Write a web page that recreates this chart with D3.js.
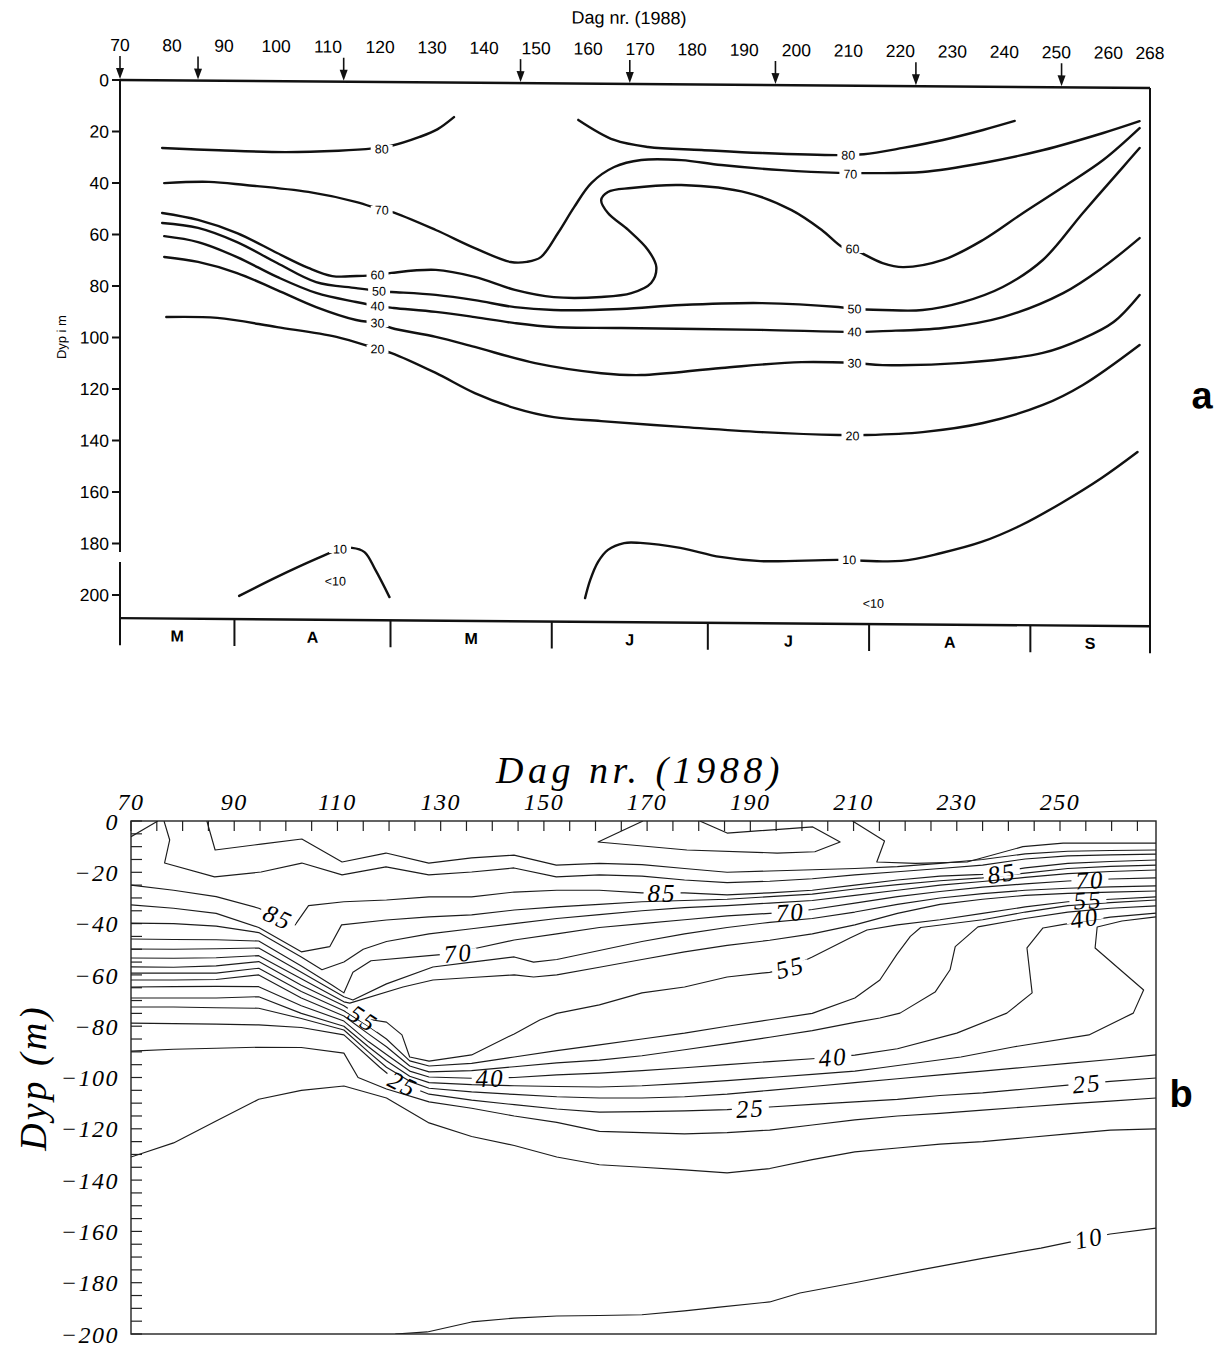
<!DOCTYPE html>
<html>
<head>
<meta charset="utf-8">
<script src="https://cdn.jsdelivr.net/npm/d3@7"></script>
<style>
  body { margin: 0; background: #fff; }
  svg { display: block; }
</style>
</head>
<body>
<svg id="chart" width="1229" height="1347"></svg>
<script>
// ---------------- panel a : hand-drawn isopleths ----------------
const aTickDays = [70, 80, 90, 100, 110, 120, 130, 140, 150, 160, 170, 180, 190, 200, 210, 220, 230, 240, 250, 260, 268];
const aSampleDays = [70, 85, 113, 147, 168, 196, 223, 251];
const aDepthTicks = [0, 20, 40, 60, 80, 100, 120, 140, 160, 180, 200];
const monthBounds = [70, 92, 122, 153, 183, 214, 245, 268];
const monthNames = ["M", "A", "M", "J", "J", "A", "S"];

const a80left = [[78.1,26.3],[89,27],[101.8,27.5],[112,26.8],[118.6,25.8],[122,24.8],[127.6,21.2],[131,18.2],[134.2,13.4]];
const a80right = [[158.1,14.1],[165,21.8],[171.5,24.4],[181.8,25.4],[193.3,26.4],[208.1,27],[213,26.6],[220.5,24],[228.2,20.8],[235.9,16.8],[242,13.2]];
const a70 = [[78.5,39.9],[87.1,39.3],[94.1,40.4],[106.2,42.9],[115.5,46.7],[120.3,49.7],[122.2,50.4],[130.7,57.3],[138.2,64.2],[145.1,69.5],[148.2,69.4],[150.9,67.5],[154.2,58.1],[157.3,48],[160.6,38.6],[165,32.3],[170.2,29.5],[177.9,29.4],[185.6,31.2],[197.2,33],[208.1,33.9],[213.5,33.9],[224.3,33.3],[235.9,29.6],[247.5,24.4],[259,17.6],[266,12.9]];
const a60 = [[78.1,51.5],[85,54.1],[92.5,59.1],[100.2,66.7],[106.2,72.4],[110.8,75.5],[115.5,75.4],[119.5,74.9],[122.2,74.1],[130.7,72.8],[138.2,75.4],[145.9,80.3],[153.4,83],[162.5,82.8],[168.3,81.2],[172.1,77.2],[173.1,71],[171.5,64.4],[167.7,56.7],[163.8,50.2],[162.5,45.2],[163.8,42],[168.3,40.4],[177.9,39.1],[190.8,42],[199.1,48.5],[204.9,56.1],[208.9,62.7],[210.8,63.4],[216.6,68.8],[220.5,70.3],[228.2,67.4],[235.9,59.5],[243.6,48.9],[251.3,38.7],[259,28.1],[266,15.6]];
const a50 = [[78.1,55.4],[85,57.2],[92.5,62.6],[100.2,70.6],[107.7,77.9],[115.4,80.1],[119.8,81.2],[122.2,81.5],[130.7,82.5],[138.2,84.4],[145.9,87],[153.4,88],[166.3,87.4],[177.9,85.7],[193.3,84.7],[208.1,86],[211.2,86.7],[216.6,87],[224.3,86.9],[232,83.7],[239.7,77.7],[247.4,67.1],[255.1,48.7],[262.8,30.8],[266,23.3]];
const a40 = [[78.5,60.5],[85,62.7],[92.5,68.4],[100.2,76],[107.7,82.1],[115.4,85.5],[119.5,87],[122.6,87.7],[130.7,89.1],[138.2,91],[145.9,93.2],[153.4,94.6],[166.3,94.8],[193.3,95.1],[211.2,95.6],[216.6,95.2],[228.2,93.8],[239.7,89.4],[251.3,79.9],[259,69.7],[266,58.3]];
const a30 = [[78.5,68.6],[85,70.4],[92.5,74.6],[100.2,81.1],[107.7,87.6],[115.4,92.5],[119.5,93.6],[122.2,95.5],[130.7,98.8],[138.2,102.6],[149.8,108.7],[162.5,112.4],[170.2,113],[185.6,110],[201,107.5],[211.2,107.7],[216.6,108.4],[232,107.3],[247.4,103.2],[255.1,97.5],[261,91],[266,80.4]];
const a20 = [[78.9,91.9],[88.7,92.1],[100.2,95.5],[111.6,99.1],[119.5,103.7],[122.2,105.2],[130.7,112.8],[138.2,120.5],[145.9,126.2],[153.4,129.6],[162.5,131],[177.9,133],[193.3,134.8],[208.1,135.7],[213.5,135.6],[224.3,134.3],[235.9,130.6],[247.4,123.4],[255.1,115.5],[266,99.8]];
const a10left = [[92.9,200],[100.2,192.5],[107.7,185.4],[112.3,181.5],[114.6,181],[117,182.6],[119.1,189.5],[121.8,200]];
const a10right = [[159.4,199.8],[160.4,192.7],[161.9,185.7],[163.8,181],[166.9,178.3],[170,178.2],[177.7,180],[185.4,183.4],[193.1,184.9],[207.9,184.2],[220.2,184.4],[227.9,181.2],[235.6,176.8],[243.3,170.1],[251,161.4],[258.7,151.6],[265.6,141.4]];
// label value, day, depth
const aLabels = [[80,120.3,26],[80,210,27],[70,120.3,49.7],[70,210.4,34.3],[60,119.5,74.9],[60,210.8,63.4],[50,119.8,81.2],[50,211.2,86.7],[40,119.5,87],[40,211.2,95.6],[30,119.5,93.6],[30,211.2,107.7],[20,119.5,103.7],[20,210.8,136],[10,112.3,181.5],[10,210.2,184.1]];
const aNotes = [["<10",111.4,194],["<10",214.8,201]];

// ---------------- panel b : computer contoured ----------------
const bTickLabels = [70, 90, 110, 130, 150, 170, 190, 210, 230, 250];
const bDepthLabels = [0, 20, 40, 60, 80, 100, 120, 140, 160, 180, 200];

const b100a = [[169.2,0],[160.5,8.2],[177.7,11.3],[195.2,12.5],[202.5,12],[207.4,8.2],[202.1,2.3],[185.5,4.7],[180.2,0]];
const b100b = [[209.8,0],[216,7.8],[214.5,16],[222,16.5],[232,16],[242.8,10],[250.6,8.6],[268.6,8.6]];
const b95 = [[84.7,0],[86.3,11.3],[95.2,9],[103.1,7],[110.9,16],[119.4,12.5],[127.7,16.4],[136,14.4],[144.2,13.3],[152.4,17.2],[160.75,16.5],[169,17],[177.25,18.5],[185.5,20],[193.75,19.5],[202,19],[210.25,18.5],[218.5,17.8],[226.75,16.5],[235,15],[243.25,12.8],[251.5,11.8],[259.75,11.5],[268.6,11.3]];
const b90corner = [[70,6.1],[75.2,0]];
const b90 = [[76.4,0],[77.5,7.4],[76.5,16.4],[86.2,21.8],[95.2,19.9],[103.1,16.4],[110.9,21],[119.4,17.9],[127.7,21],[136,19.9],[144.2,18.3],[152.4,21.8],[160.75,21],[169,21.5],[177.25,23],[185.5,24],[193.75,23.5],[202,22.5],[210.25,21],[218.5,19.8],[226.75,18.5],[235,17.2],[243.25,14.8],[251.5,13.6],[259.75,13.2],[268.6,12.9]];
const b85 = [[70,25],[78.25,27],[86.5,29.5],[94.75,34],[98.5,37.4],[101.8,40.5],[104.4,33],[111.25,31.5],[119.5,30.8],[127.75,29.6],[136,29.6],[144.25,27.7],[152.5,27],[160.75,27],[169,28],[177.25,28],[185.5,28.8],[193.75,28],[202,27],[210.25,25],[218.5,23],[226.75,21.5],[235,20.8],[243.25,18.3],[251.5,16.5],[259.75,15.8],[268.6,15.2]];
const b80 = [[70,32.7],[78.25,34],[86.5,36],[94.75,41.5],[103,51],[108.5,49],[110.8,40.5],[119.5,38.6],[127.75,37.4],[136,36.6],[144.25,34.7],[152.5,33.5],[160.75,32.5],[169,31.5],[177.25,31],[185.5,30.5],[193.75,29.5],[202,28.5],[210.25,26.5],[218.5,24.8],[226.75,23.3],[235,22.2],[243.25,20.3],[251.5,18.5],[259.75,17.7],[268.6,17.2]];
const b75 = [[70,39.8],[78.25,40],[86.5,41],[94.75,43.5],[103,53],[107,58],[111.25,55],[115,50],[119.5,47],[127.75,44],[136,42],[144.25,40],[152.5,38],[160.75,36.5],[169,35],[177.25,33.8],[185.5,33],[193.75,32],[202,31],[210.25,29],[218.5,27],[226.75,25],[235,23.6],[243.25,22],[251.5,20.5],[259.75,19.7],[268.6,19.1]];
const b70 = [[70,46],[78.25,46.2],[86.5,46.3],[94.75,46.8],[103,56.5],[109,64],[111.25,67],[113,59],[116.5,54.5],[127.75,52.5],[133.4,51.5],[136,50],[144.25,46.4],[152.5,44],[160.75,41.5],[169,40],[177.25,38.5],[185.5,37],[193.75,36],[197.7,35.5],[202,34.5],[210.25,32],[218.5,29.5],[226.75,27.5],[235,25.8],[243.25,24.5],[251.5,23.4],[255.8,23],[259.75,22.6],[268.6,22.2]];
const b65 = [[70,49.9],[78.25,50],[86.5,49.8],[94.75,49.5],[103,59],[111.25,68.5],[113,69.8],[119.5,63.5],[128.5,56.9],[136,55],[144.25,53],[148,55],[152.5,54],[160.75,50.5],[169,47],[177.25,44],[185.5,41.5],[193.75,39.5],[202,38],[210.25,35.5],[218.5,32.5],[226.75,30],[235,28.3],[243.25,27],[251.5,26.2],[259.75,25.7],[268.6,25.3]];
const b60 = [[70,53.4],[78.25,53.5],[86.5,53.3],[94.75,52.5],[103,61.5],[111.25,70.5],[112.4,71],[122.7,64.7],[128.5,62],[136,61],[144.25,60],[148,60.8],[152.5,60],[160.75,57],[169,54],[177.25,51],[185.5,48.5],[193.75,46.5],[202,44],[210.25,40.5],[218.5,36],[226.75,32.5],[235,30.5],[243.25,29],[251.5,28.2],[259.75,27.7],[268.6,27.3]];
const b55 = [[70,56.9],[78.25,57],[86.5,56.5],[94.75,54.8],[103,64],[111.25,72],[115,77],[119.5,78.4],[122.5,83.4],[124,92],[127.75,93.6],[136,91.2],[144.25,83],[149.2,77.6],[152.5,75],[160.75,71.7],[169,67],[177.25,64.7],[185.5,60.8],[193.75,59],[197.7,57],[202,53],[209.3,45.6],[212.6,42.5],[218.5,40.5],[226.75,38.5],[235,36],[243.25,33.5],[251.5,31.5],[259.75,30.5],[268.6,29.6]];
const b50 = [[70,59.3],[78.25,59.3],[86.5,59.3],[94.75,57.4],[103,66.5],[111.25,74],[116,80],[119.5,85],[124,93.5],[127.75,95.5],[136,94.5],[144.25,92],[152.5,89.5],[160.75,87.3],[169,85],[177.25,82.7],[185.5,80],[193.75,77.5],[202,75],[210.25,69],[215.1,62],[218.4,52],[221,45],[223,41.5],[235,38.5],[243.25,35.5],[251.5,33],[259.75,31.8],[268.6,30.8]];
const b45 = [[70,62],[78.25,62],[86.5,61.8],[94.75,60],[103,69],[111.25,76],[116,83],[119.5,88],[124,95.5],[127.75,97.8],[136,97.3],[144.25,95.8],[152.5,94.3],[160.75,93.2],[169,91.5],[177.25,89.2],[185.5,86.8],[193.75,84.3],[202,81.7],[210.25,78.5],[215.1,76.8],[219,74.9],[225.8,66.7],[228.7,58],[229.7,49],[234.1,41.3],[243.25,38],[251.5,35.5],[259.75,34],[268.6,33.1]];
const b40 = [[70,64.7],[78.25,64.6],[86.5,64.5],[94.75,64.6],[103,72],[111.25,78],[116,86],[119.5,91],[124,97.5],[127.75,99.8],[136,100.3],[144.25,100],[152.5,99],[160.75,98.3],[169,97.3],[177.25,96.2],[185.5,95],[193.75,93.8],[202,92.7],[210.25,91.3],[218.5,88.8],[230,82.7],[239.7,74.9],[244.6,67],[243.6,49.5],[246.7,41.7],[251,40.2],[259.75,37.5],[268.6,35.9]];
const b35 = [[70,69],[78.25,69],[86.5,69],[94.75,68.5],[103,75],[111.25,80],[116,88],[119.5,93.5],[124,99.5],[127.75,102],[136,102.8],[144.25,103.2],[152.5,103.5],[160.75,103.7],[169,103.2],[177.25,102.3],[185.5,101.2],[193.75,100],[202,98.8],[210.25,97.5],[215,96.3],[230.8,92],[240.9,88.1],[255.6,83.4],[264.2,74.9],[266.2,65.9],[256.8,49.5],[257.2,41.3],[262,39],[268.6,37.4]];
const b30 = [[70,72.5],[78.25,72.5],[86.5,72.8],[94.75,73],[103,77],[111.25,81.5],[116,90],[119.5,96],[124,101.5],[127.75,104.2],[136,105.6],[144.25,106.6],[152.5,107.5],[160.75,108],[169,108],[177.25,107.5],[185.5,106.5],[193.75,105],[202,103.5],[210.25,102],[218.5,100.5],[226.75,99],[235,97.5],[243.25,96],[251.5,94.5],[259.75,93],[268.6,91.2]];
const b25 = [[70,78.8],[78.25,79],[86.5,79.2],[94.75,79.5],[103,80.5],[111.25,83.4],[118.2,96],[121.2,101],[122.7,102.5],[127.75,106.5],[136,108.8],[144.25,110.6],[152.5,112.3],[160.75,113.5],[169,113.3],[177.25,113],[185.5,112.5],[193.75,111.5],[202,110.5],[210.25,109.5],[218.5,108.5],[226.75,107],[235,106],[243.25,104.5],[251.5,103],[259.75,101.5],[268.6,100.2]];
const b20 = [[70,89.7],[78.25,89],[86.5,88.6],[94.75,88.2],[103,88.3],[111.25,90.5],[114,100],[119.5,104.5],[127.75,109.5],[136,112],[144.25,115],[152.5,117.5],[160.75,121],[169,121.5],[177.25,122],[185.5,121.5],[193.75,120.5],[202,118.5],[210.25,116.5],[218.5,115],[226.75,114],[235,112.7],[243.25,111.5],[251.5,110.3],[259.75,109.2],[268.6,108]];
const b15 = [[70,131],[78.25,125.5],[86.5,117],[94.75,108.5],[103,105],[111.25,103.3],[119.5,108],[127.75,117.7],[136,123],[144.25,126.5],[152.5,131],[160.75,134],[169,135],[177.25,136],[185.5,137.2],[193.75,135.5],[202,132],[210.25,129],[218.5,127.5],[226.75,126],[235,125],[243.25,123.5],[251.5,122],[259.75,120.5],[268.6,120]];
const b10 = [[121.2,200],[127.4,199.2],[136,195.3],[144.25,193.8],[152.5,193],[160.75,192.8],[169,192.5],[177.25,191],[184,189.5],[193.75,187.5],[199.6,184],[210.25,180],[223,175],[235,170.5],[246.3,166.5],[255.6,162.6],[259.75,161],[268.6,158.7]];
const bLabels = [[85,98.5,37.4],[85,172.9,28],[85,238.7,20.3],[70,133.4,51.5],[70,197.7,35.5],[70,255.8,23],[55,115,77],[55,197.7,57],[55,255.4,30.8],[40,139.6,100.2],[40,206,92],[40,254.8,37.8],[25,122.7,102.5],[25,190,112],[25,255.2,102.3],[10,255.6,162.6]];

// ---------------------------------------------------------------
const svg = d3.select("#chart");
const sans = "'Liberation Sans', Arial, sans-serif";
const serif = "'Liberation Serif', 'DejaVu Serif', serif";

// gap + text label, rotated along the line
function lineLabel(g, x, y, angle, txt, font, size, gapH, spacing) {
  const lg = g.append("g").attr("transform", `translate(${x},${y}) rotate(${angle})`);
  const gap = lg.append("rect").attr("fill", "#fff");
  const t = lg.append("text")
    .attr("text-anchor", "middle").attr("dy", "0.35em")
    .style("font-family", font).style("font-size", size + "px")
    .style("letter-spacing", spacing + "px")
    .text(txt);
  if (font === serif) t.style("font-style", "italic");
  const bb = t.node().getBBox();
  gap.attr("x", bb.x - 4).attr("width", bb.width + 8).attr("y", -gapH / 2).attr("height", gapH);
}

// ================= panel a =================
const xa = d3.scaleLinear().domain([70, 268]).range([120, 1150]);
const ya = d3.scaleLinear().domain([0, 200]).range([80, 595]);
// the scanned figure is slightly sheared
const ga = svg.append("g").attr("transform", "matrix(1,0.0078,0,1,0,-0.936)");

ga.append("text")
  .attr("x", 629).attr("y", 20)
  .attr("text-anchor", "middle")
  .style("font-family", sans).style("font-size", "18px")
  .text("Dag nr. (1988)");

ga.selectAll(".atick").data(aTickDays).enter().append("text")
  .attr("x", d => xa(d)).attr("y", ya(0) - 29)
  .attr("text-anchor", "middle")
  .style("font-family", sans).style("font-size", "17.5px")
  .text(d => d);

// sampling arrows
aSampleDays.forEach(d => {
  const x = xa(d);
  ga.append("line").attr("x1", x).attr("x2", x).attr("y1", ya(0) - 24).attr("y2", ya(0) - 8)
    .attr("stroke", "#111").attr("stroke-width", 1.6);
  ga.append("path")
    .attr("d", `M${x - 4},${ya(0) - 12} L${x + 4},${ya(0) - 12} L${x},${ya(0) - 1} Z`)
    .attr("fill", "#111");
});

// frame
const aBottom = 209, aMonthDepth = 219.5;
ga.append("line").attr("x1", xa(70)).attr("x2", xa(268)).attr("y1", ya(0)).attr("y2", ya(0))
  .attr("stroke", "#111").attr("stroke-width", 2.4);
ga.append("line").attr("x1", xa(70)).attr("x2", xa(268)).attr("y1", ya(aBottom)).attr("y2", ya(aBottom))
  .attr("stroke", "#111").attr("stroke-width", 2.4);
ga.append("line").attr("x1", xa(268)).attr("x2", xa(268)).attr("y1", ya(0)).attr("y2", ya(aMonthDepth))
  .attr("stroke", "#111").attr("stroke-width", 2);
ga.append("line").attr("x1", xa(70)).attr("x2", xa(70)).attr("y1", ya(0)).attr("y2", ya(183.3))
  .attr("stroke", "#111").attr("stroke-width", 2);
ga.append("line").attr("x1", xa(70)).attr("x2", xa(70)).attr("y1", ya(187.2)).attr("y2", ya(aMonthDepth))
  .attr("stroke", "#111").attr("stroke-width", 2);

// depth axis
ga.selectAll(".aytk").data(aDepthTicks).enter().append("line")
  .attr("x1", xa(70) - 8).attr("x2", xa(70)).attr("y1", d => ya(d)).attr("y2", d => ya(d))
  .attr("stroke", "#111").attr("stroke-width", 2);
ga.selectAll(".aylb").data(aDepthTicks).enter().append("text")
  .attr("x", xa(70) - 11).attr("y", d => ya(d)).attr("dy", "0.36em")
  .attr("text-anchor", "end")
  .style("font-family", sans).style("font-size", "17.5px")
  .text(d => d);
ga.append("text")
  .attr("transform", `translate(66,${ya(100)}) rotate(-90)`)
  .attr("text-anchor", "middle")
  .style("font-family", sans).style("font-size", "13px")
  .text("Dyp i m");

// months
monthBounds.slice(1, -1).forEach(d => {
  ga.append("line").attr("x1", xa(d)).attr("x2", xa(d)).attr("y1", ya(aBottom)).attr("y2", ya(aMonthDepth))
    .attr("stroke", "#111").attr("stroke-width", 2);
});
monthNames.forEach((m, i) => {
  ga.append("text")
    .attr("x", xa((monthBounds[i] + monthBounds[i + 1]) / 2)).attr("y", ya(aMonthDepth) - 4)
    .attr("text-anchor", "middle")
    .style("font-family", sans).style("font-size", "16px").style("font-weight", "bold")
    .text(m);
});

// isopleths
const aContours = [a80left, a80right, a70, a60, a50, a40, a30, a20, a10left, a10right];
const aLine = d3.line().x(d => xa(d[0])).y(d => ya(d[1])).curve(d3.curveCatmullRom.alpha(0.5));
ga.selectAll(".aiso").data(aContours).enter().append("path")
  .attr("d", aLine).attr("fill", "none")
  .attr("stroke", "#111").attr("stroke-width", 2.4).attr("stroke-linecap", "round");
aLabels.forEach(([v, d, z]) => lineLabel(ga, xa(d), ya(z), 0, v, sans, 12.5, 8, 0));
aNotes.forEach(([s, d, z]) => {
  ga.append("text").attr("x", xa(d)).attr("y", ya(z)).attr("dy", "0.35em")
    .attr("text-anchor", "middle")
    .style("font-family", sans).style("font-size", "12.5px")
    .text(s);
});

ga.append("text")
  .attr("x", 1202).attr("y", 400)
  .attr("text-anchor", "middle")
  .style("font-family", sans).style("font-size", "38px").style("font-weight", "bold")
  .text("a");

// ================= panel b =================
const xb = d3.scaleLinear().domain([70, 268.6]).range([131, 1156]);
const yb = d3.scaleLinear().domain([0, 200]).range([821, 1334]);
const gb = svg.append("g");

gb.append("text")
  .attr("x", 640).attr("y", 783)
  .attr("text-anchor", "middle")
  .style("font-family", serif).style("font-style", "italic")
  .style("font-size", "38px").style("letter-spacing", "4.5px")
  .text("Dag nr. (1988)");

gb.selectAll(".bxlb").data(bTickLabels).enter().append("text")
  .attr("x", d => xb(d)).attr("y", 810)
  .attr("text-anchor", "middle")
  .style("font-family", serif).style("font-style", "italic")
  .style("font-size", "24px").style("letter-spacing", "1.5px")
  .text(d => d);

gb.selectAll(".bylb").data(bDepthLabels).enter().append("text")
  .attr("x", 119).attr("y", d => yb(d)).attr("dy", "0.36em")
  .attr("text-anchor", "end")
  .style("font-family", serif).style("font-style", "italic")
  .style("font-size", "24px").style("letter-spacing", "1.5px")
  .text(d => d === 0 ? "0" : "\u2212" + d);

gb.append("text")
  .attr("transform", `translate(46,${yb(100)}) rotate(-90)`)
  .attr("text-anchor", "middle")
  .style("font-family", serif).style("font-style", "italic")
  .style("font-size", "38px").style("letter-spacing", "3px")
  .text("Dyp (m)");

gb.append("clipPath").attr("id", "bclip").append("rect")
  .attr("x", xb(70)).attr("y", yb(0)).attr("width", xb(268.6) - xb(70)).attr("height", yb(200) - yb(0));

// ticks
gb.selectAll(".bxt").data(d3.range(70, 268, 5)).enter().append("line")
  .attr("x1", d => xb(d)).attr("x2", d => xb(d)).attr("y1", yb(0)).attr("y2", yb(0) + 10)
  .attr("stroke", "#222").attr("stroke-width", 1.2);
gb.selectAll(".byt").data(d3.range(0, 201, 5)).enter().append("line")
  .attr("x1", xb(70)).attr("x2", xb(70) + 11).attr("y1", d => yb(d)).attr("y2", d => yb(d))
  .attr("stroke", "#222").attr("stroke-width", 1.2);

const bContours = [
  [100, b100a], [100, b100b], [95, b95], [90, b90corner], [90, b90], [85, b85], [80, b80], [75, b75],
  [70, b70], [65, b65], [60, b60], [55, b55], [50, b50], [45, b45], [40, b40], [35, b35],
  [30, b30], [25, b25], [20, b20], [15, b15], [10, b10]
];
const bLine = d3.line().x(d => xb(d[0])).y(d => yb(d[1]));
const cg = gb.append("g").attr("clip-path", "url(#bclip)");
cg.selectAll(".biso").data(bContours).enter().append("path")
  .attr("d", d => bLine(d[1])).attr("fill", "none")
  .attr("stroke", "#1c1c1c").attr("stroke-width", 1.15).attr("stroke-linejoin", "round");

// angle of the contour near a label
function localAngle(level, day, depth) {
  const px = xb(day), py = yb(depth);
  let best = Infinity, ang = 0;
  bContours.filter(c => c[0] === level).forEach(c => {
    const p = c[1];
    for (let i = 0; i < p.length - 1; i++) {
      const ax = xb(p[i][0]), ay = yb(p[i][1]), bx = xb(p[i + 1][0]), by = yb(p[i + 1][1]);
      const dx = bx - ax, dy = by - ay, L = dx * dx + dy * dy || 1;
      const t = Math.max(0, Math.min(1, ((px - ax) * dx + (py - ay) * dy) / L));
      const qx = ax + t * dx - px, qy = ay + t * dy - py, dist = qx * qx + qy * qy;
      if (dist < best) {
        best = dist;
        ang = Math.atan2(dy, dx) * 180 / Math.PI;
        if (ang > 90) ang -= 180;
        if (ang < -90) ang += 180;
      }
    }
  });
  return ang;
}
bLabels.forEach(([v, d, z]) => lineLabel(gb, xb(d), yb(z), localAngle(v, d, z), v, serif, 25, 7, 2));

gb.append("rect")
  .attr("x", xb(70)).attr("y", yb(0)).attr("width", xb(268.6) - xb(70)).attr("height", yb(200) - yb(0))
  .attr("fill", "none").attr("stroke", "#222").attr("stroke-width", 1.4);

gb.append("text")
  .attr("x", 1181).attr("y", 1107)
  .attr("text-anchor", "middle")
  .style("font-family", sans).style("font-size", "38px").style("font-weight", "bold")
  .text("b");
</script>
</body>
</html>
